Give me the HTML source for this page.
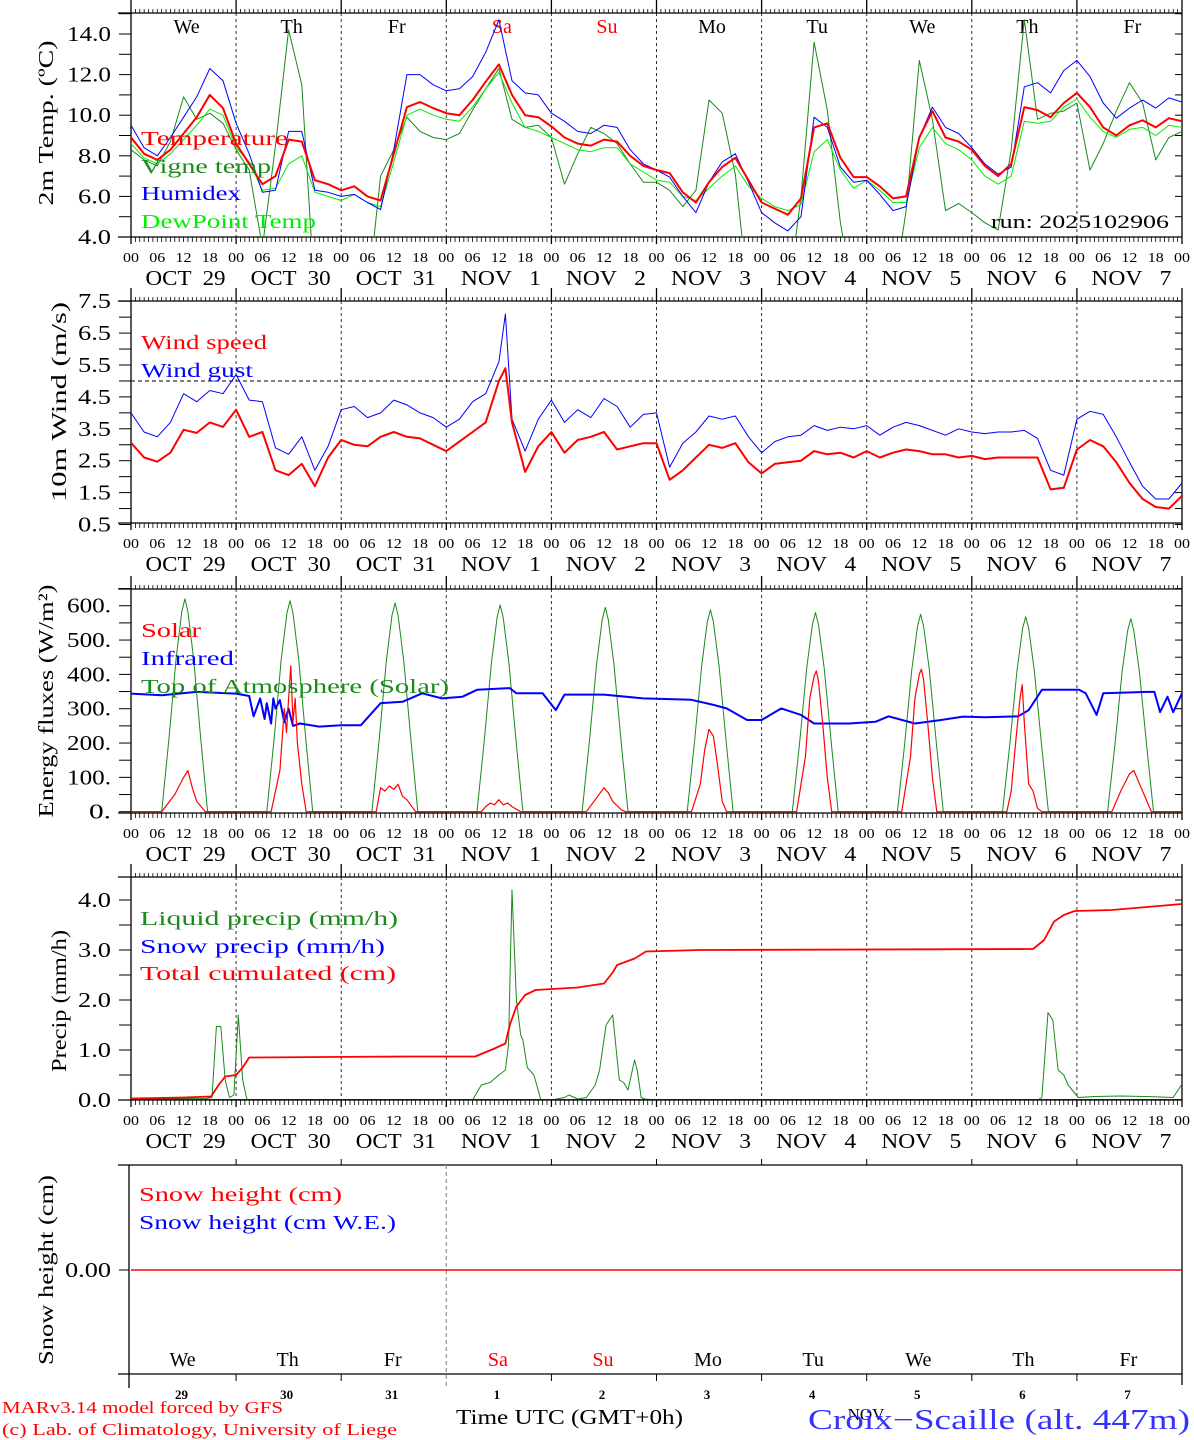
<!DOCTYPE html>
<html><head><meta charset="utf-8"><style>
html,body{margin:0;padding:0;background:#fff;}
svg{display:block;font-family:"Liberation Serif",serif;}
text{white-space:pre;}
</style></head><body>
<svg id="chart" width="1194" height="1440" viewBox="0 0 1194 1440" xmlns="http://www.w3.org/2000/svg" xml:space="preserve"></svg>
<script>
// ---------- DATA ----------
const dayNames = ["We","Th","Fr","Sa","Su","Mo","Tu","We","Th","Fr"];
const dayColors = ["#000","#000","#000","#f00","#f00","#000","#000","#000","#000","#000"];
const dateLabels = ["OCT  29","OCT  30","OCT  31","NOV   1","NOV   2","NOV   3","NOV   4","NOV   5","NOV   6","NOV   7"];
const dateNums = ["29","30","31","1","2","3","4","5","6","7"];
const hourLabels = ["00","06","12","18"];
// 3-hourly series, h = 0..240
const tempVals = [8.9,8.1,7.8,8.3,9.1,9.9,11.0,10.35, 8.6,7.6,6.6,7.0,8.8,8.7,6.8,6.6, 6.3,6.5,6.0,5.8,8.1,10.4,10.65,10.35, 10.1,10.0,10.75,11.65,12.5,11.0,10.0,9.9, 9.45,8.9,8.6,8.5,8.8,8.7,8.0,7.5, 7.3,7.15,6.2,5.7,6.7,7.45,7.9,6.8, 5.7,5.4,5.1,5.9,9.4,9.6,7.9,6.95, 6.95,6.5,5.9,6.0,8.9,10.2,8.9,8.7, 8.3,7.5,7.0,7.6,10.4,10.25,9.9,10.6, 11.1,10.4,9.4,9.0,9.5,9.75,9.4,9.85,9.7];
const humidexVals = [9.5,8.4,8.0,8.9,9.9,10.9,12.3,11.7, 9.6,8.1,6.2,6.3,9.2,9.2,6.3,6.2, 6.0,6.1,5.7,5.35,8.3,12.0,12.0,11.5, 11.2,11.3,11.9,13.1,14.7,11.7,11.1,11.0, 10.1,9.7,9.2,9.1,9.5,9.4,8.3,7.6, 7.3,6.95,6.0,5.2,6.7,7.7,8.1,6.7, 5.2,4.7,4.3,5.0,9.9,9.4,7.45,6.7, 6.8,6.1,5.3,5.5,8.9,10.4,9.4,9.1, 8.4,7.6,7.1,7.45,11.4,11.6,11.1,12.2, 12.7,11.9,10.6,9.85,10.35,10.75,10.35,10.85,10.65];
const dewVals = [8.6,7.9,7.6,8.1,8.8,9.5,10.3,10.0, 8.4,7.7,6.3,6.4,7.6,8.0,6.2,6.0, 5.8,6.1,5.7,5.5,7.7,10.0,10.3,10.0, 9.8,9.7,10.4,11.3,12.1,10.6,9.4,9.2, 8.9,8.6,8.3,8.2,8.4,8.4,7.6,7.2, 6.8,6.7,6.0,5.8,6.4,7.0,7.5,6.5, 5.9,5.5,5.3,5.6,8.2,8.8,7.3,6.4, 6.8,6.3,5.7,5.7,8.4,9.4,8.6,8.3, 7.8,7.0,6.6,7.0,9.7,9.6,9.7,10.4, 10.8,9.9,9.2,8.9,9.3,9.4,9.0,9.5,9.4];
const vigneVals = [8.3,7.8,7.5,8.7,10.9,9.8,10.1,9.6, 8.3,7.3,3.5,8.5,14.2,11.5,1,1, 1,1,1,7.0,8.3,9.9,9.2,8.9, 8.8,9.1,10.25,11.3,12.3,9.8,9.4,9.5, 8.9,6.6,8.1,9.4,9.1,8.6,7.6,6.7, 6.7,6.3,5.5,6.3,10.75,10.1,7.1,1, 1,1,1,6.0,13.6,10.25,4.7,1, 1,1,1,5.3,12.7,9.8,5.3,5.65, 5.2,4.7,4.35,8.3,14.7,9.8,10.1,10.2, 10.6,7.3,8.6,10.2,11.6,10.6,7.8,8.9,9.2];
const windVals = [3.06,2.6,2.47,2.75,3.47,3.37,3.7,3.56, 4.1,3.25,3.4,2.2,2.05,2.4,1.7,2.6, 3.15,3.0,2.95,3.25,3.4,3.25,3.2,3.0, 2.8,3.1,3.4,3.7,5.0,3.7,2.15,2.95, 3.4,2.75,3.15,3.25,3.4,2.85,2.95,3.05, 3.05,1.9,2.2,2.6,3.0,2.9,3.05,2.45, 2.1,2.4,2.45,2.5,2.8,2.7,2.75,2.6, 2.8,2.6,2.75,2.85,2.8,2.7,2.7,2.6, 2.65,2.55,2.6,2.6,2.6,2.6,1.6,1.65, 2.85,3.15,2.95,2.45,1.8,1.3,1.05,1.0,1.4];
const gustVals = [4.0,3.4,3.25,3.7,4.6,4.35,4.7,4.6, 5.2,4.4,4.35,2.9,2.7,3.25,2.2,2.95, 4.1,4.2,3.85,4.0,4.4,4.25,4.0,3.85, 3.55,3.8,4.35,4.6,5.6,3.8,2.8,3.8, 4.4,3.7,4.1,3.85,4.45,4.2,3.55,3.95, 4.0,2.3,3.05,3.4,3.9,3.8,3.9,3.25, 2.75,3.1,3.25,3.3,3.6,3.45,3.55,3.5, 3.6,3.3,3.55,3.7,3.6,3.45,3.3,3.5, 3.4,3.35,3.4,3.4,3.45,3.2,2.2,2.05, 3.8,4.05,3.95,3.25,2.45,1.7,1.3,1.3,1.8];
const windPeakHours = [85.5];
const windPeakVals = [5.4];
const gustPeakVals = [7.1];
// Energy fluxes
const irHours = [0,7,15,22,24,27,28,29.5,30.5,31,32,32.5,33,34,35,36,37,38.6,43,48,52.5,57,62,66.5,71,75.7,79,86.5,88,94,97,99,108,117,128,133,136,140.7,144,148.5,153,156,164,170,173,179,185,190,195,202.6,205,208,216.5,218,220.5,222,232,233.7,235,236.7,238,240];
const irVals = [344,339,349,345,344,337,278,330,270,316,257,330,300,325,260,300,250,257,248,252,252,316,320,345,330,335,355,360,345,345,296,341,341,330,326,311,301,267,267,301,282,257,257,262,278,257,267,277,275,278,296,355,355,345,282,345,349,349,290,335,290,345,350];
const solarHours = [0,7,10,12,13,14,15,17, 32,34,35,35.5,36,36.5,37,37.5,38,39,40, 56,57,58,59,60,61,62,63,65, 80,81,82,83,84,85,86,87,89, 104,106,108,109,110,112,113, 128,130,131,132,133,134,135,136, 152,154,155,156,156.5,157,158,159,160, 176,178,179,180,180.5,181,182,183,184, 200,201,202,203,203.5,204,205,206,207,208, 224,226,228,229,230,231,232,233,240];
const solarVals = [0,0,50,100,120,70,30,0, 0,120,300,230,330,425,260,330,200,80,0, 0,70,60,75,65,80,45,35,0, 0,15,25,20,35,20,25,15,0, 0,35,70,55,30,5,0, 0,80,180,240,220,130,30,0, 0,160,330,395,410,380,250,100,0, 0,160,330,400,415,385,250,100,0, 0,60,200,330,370,260,80,60,10,0, 0,60,110,120,90,60,30,0,0];
const toaOffsets = [7,8.7,10.3,11.6,12.3,13.0,14.3,15.9,17.5];
const toaPeaks = [620,615,608,602,595,588,580,575,568,562];
const toaDayVals = [
 [0,217,446,583,620,583,446,217,0],[0,215,443,578,615,578,443,215,0],[0,213,438,572,608,572,438,213,0],
 [0,211,433,566,602,566,433,211,0],[0,208,428,559,595,559,428,208,0],[0,206,423,553,588,553,423,206,0],
 [0,203,418,545,580,545,418,203,0],[0,201,414,540,575,540,414,201,0],[0,199,409,534,568,534,409,199,0],
 [0,197,405,528,562,528,405,197,0]];
// Precip
const cumHours = [0,12,18.3,20,21.5,24,25.5,27,63,78.6,83,85.5,86.5,88,90,92.4,102,108,110,111,115,117.6,130,206,208.5,210.8,213,215.5,224,232,240];
const cumVals = [0.03,0.05,0.07,0.3,0.47,0.5,0.65,0.85,0.87,0.87,1.03,1.13,1.5,1.87,2.1,2.2,2.25,2.33,2.55,2.7,2.83,2.97,3.0,3.02,3.2,3.57,3.7,3.78,3.8,3.86,3.92];
const liqHours = [0,17,18.5,19.5,20.5,21.5,22.5,23.5,24.5,25.5,26.5,78,80,82,84,85.5,86.2,87,88,89,89.5,90.5,92,93.6,96,99,100,102,104,106,107,108.5,110,111.5,112.5,113.5,115,115.6,116.5,117.4,120,207,208,209.4,210.5,211.7,213,214,216.3,220,226,232,238,240];
const liqVals = [0.02,0.03,0.05,1.47,1.47,0.4,0.05,0.1,1.7,0.4,0.0,0.0,0.3,0.35,0.5,0.6,1.1,4.2,2.0,1.3,1.2,0.65,0.5,0.0,0.0,0.05,0.1,0.02,0.05,0.3,0.6,1.5,1.7,0.4,0.35,0.2,0.8,0.6,0.05,0.02,0.0,0.0,0.05,1.75,1.6,0.6,0.5,0.3,0.05,0.07,0.08,0.07,0.05,0.32];
const snowVals = [0,0];
const snowHours = [0,240];

// ---------- HELPERS ----------
const svg = document.getElementById('chart');
const NS = "http://www.w3.org/2000/svg";
const X0 = 131, X1 = 1182;
function xs(h){ return X0 + h*(X1-X0)/240; }
function mk(tag, attrs, name, parent){
  const e = document.createElementNS(NS, tag);
  for (const k in attrs) e.setAttribute(k, attrs[k]);
  
  
  (parent||svg).appendChild(e);
  return e;
}
function txt(x,y,s,size,fill,name,opts){
  opts = opts||{};
  const t = mk('text', {x:x,y:y,'font-size':size,fill:fill,'text-anchor':opts.anchor||'start'}, name, opts.parent);
  if (opts.len){ t.setAttribute('textLength', opts.len); t.setAttribute('lengthAdjust','spacingAndGlyphs'); }
  if (opts.rot) t.setAttribute('transform', 'rotate(-90 '+x+' '+y+')');
  if (opts.bold) t.setAttribute('font-weight','bold');
  t.textContent = s;
  return t;
}
function line(x1,y1,x2,y2,stroke,w,name,dash,parent){
  const l = mk('line',{x1:x1,y1:y1,x2:x2,y2:y2,stroke:stroke,'stroke-width':w},name,parent);
  if (dash) l.setAttribute('stroke-dasharray', dash);
  return l;
}
function poly(hours, vals, ys, color, w, name, clip){
  let pts = [];
  for (let i=0;i<vals.length;i++) pts.push(xs(hours[i]).toFixed(1)+','+ys(vals[i]).toFixed(1));
  const p = mk('polyline',{points:pts.join(' '),fill:'none',stroke:color,'stroke-width':w,'stroke-linejoin':'round'},name);
  if (clip) p.setAttribute('clip-path','url(#'+clip+')');
  return p;
}
const h3 = []; for (let h=0; h<=240; h+=3) h3.push(h);

const defs = mk('defs',{},'defs');
function clipFor(id,top,bot){
  const c = mk('clipPath',{id:id},'clip-'+id,defs);
  mk('rect',{x:X0,y:top,width:X1-X0,height:bot-top},'clip-rect',c);
}

function frame(p){
  const {top,bot,name} = p;
  for (let d=1; d<10; d++){
    line(xs(d*24),top,xs(d*24),bot,'#333',1,name+'-day-divider','3,3');
  }
  line(118,top,X1,top,'#000',1.3,name+'-top-border');
  line(118,bot,X1,bot,'#000',1.3,name+'-bottom-border');
  line(X0,top,X0,bot,'#000',1.3,name+'-left-axis');
  line(X1,top,X1,bot,'#000',1.3,name+'-right-axis');
  for (let h=0; h<=240; h++){
    const x = xs(h);
    const day = h%24===0;
    line(x,top-(day?13:4),x,top,'#000',day?1.3:0.8,name+'-top-tick');
    line(x,bot,x,bot+(day?7:5),'#000',day?1.3:0.8,name+'-bottom-tick');
  }
  for (let d=0; d<=10; d++){
    for (let k=0;k<4;k++){
      if (d===10 && k>0) break;
      txt(xs(d*24+k*6), bot+25, hourLabels[k], 14, '#000', name+'-hour-label', {anchor:'middle', len:16});
    }
    if (d<10) txt(xs(d*24+12)+2, bot+48, dateLabels[d], 21, '#000', name+'-date-label', {anchor:'middle', len:80});
  }
  for (const v of p.ticks){
    const y = p.ys(v);
    line(119,y,X0,y,'#000',1,name+'-y-tick');
    line(X1-7,y,X1,y,'#000',1,name+'-y-tick-right');
  }
  for (let i=0;i<p.labels.length;i++){
    txt(111, p.ys(p.labels[i])+7, p.labelText[i], 21, '#000', name+'-y-label', {anchor:'end', len:p.labelText[i].length*11});
  }
  txt(p.titleX, p.titleY, p.title, 21, '#000', name+'-y-axis-title', {anchor:'middle', rot:true, len:p.titleLen});
}

// ---------- PANEL 1 ----------
const ys1 = v => 237 - (v-4)*20.3;
clipFor('c1',13,237);
frame({top:13,bot:237,name:'temp-panel',ys:ys1,ticks:[4,5,6,7,8,9,10,11,12,13,14,15],labels:[4,6,8,10,12,14],labelText:['4.0','6.0','8.0','10.0','12.0','14.0'],title:'2m Temp. (ºC)',titleX:53,titleY:123,titleLen:165});
for (let d=0; d<10; d++) txt(xs(d*24+12)+3, 33, dayNames[d], 20, dayColors[d], 'day-name-top', {anchor:'middle'});
poly(h3, vigneVals, ys1, '#1a8a1a', 1, 'vigne-temp-line', 'c1');
poly(h3, dewVals, ys1, '#00ee00', 1, 'dewpoint-line', 'c1');
poly(h3, humidexVals, ys1, '#0000ff', 1, 'humidex-line', 'c1');
poly(h3, tempVals, ys1, '#ff0000', 2, 'temperature-line', 'c1');
txt(141,145,'Temperature',20,'#ff0000','legend-temperature',{len:147});
txt(141,173,'Vigne temp',20,'#1a8a1a','legend-vigne-temp',{len:130});
txt(141,200,'Humidex',20,'#0000ff','legend-humidex',{len:100});
txt(141,228,'DewPoint Temp',20,'#00ee00','legend-dewpoint',{len:175});
txt(991,228,'run: 2025102906',19,'#000','run-label',{len:178});

// ---------- PANEL 2 ----------
const ys2 = v => 524.5 - (v-0.5)*31.9;
clipFor('c2',301,523);
frame({top:301,bot:523,name:'wind-panel',ys:ys2,ticks:[0.5,1,1.5,2,2.5,3,3.5,4,4.5,5,5.5,6,6.5,7,7.5],labels:[0.5,1.5,2.5,3.5,4.5,5.5,6.5,7.5],labelText:['0.5','1.5','2.5','3.5','4.5','5.5','6.5','7.5'],title:'10m Wind (m/s)',titleX:66,titleY:402,titleLen:200});
line(X0,ys2(5),X1,ys2(5),'#000',1,'wind-5ms-threshold','4,3');
function mergePeak(vals, peaks){
  const hh = h3.slice(), vv = vals.slice();
  for (let i=0;i<windPeakHours.length;i++){
    const idx = hh.findIndex(h => h>windPeakHours[i]);
    hh.splice(idx,0,windPeakHours[i]); vv.splice(idx,0,peaks[i]);
  }
  return [hh,vv];
}
const g2 = mergePeak(gustVals, gustPeakVals);
poly(g2[0], g2[1], ys2, '#0000ff', 1, 'wind-gust-line', 'c2');
const w2 = mergePeak(windVals, windPeakVals);
poly(w2[0], w2[1], ys2, '#ff0000', 2, 'wind-speed-line', 'c2');
txt(141,349,'Wind speed',20,'#ff0000','legend-wind-speed',{len:126});
txt(141,377,'Wind gust',20,'#0000ff','legend-wind-gust',{len:112});

// ---------- PANEL 3 ----------
const ys3 = v => 811.7 - v*0.3433;
clipFor('c3',589,813);
frame({top:589,bot:813,name:'energy-panel',ys:ys3,ticks:[0,50,100,150,200,250,300,350,400,450,500,550,600,650],labels:[0,100,200,300,400,500,600],labelText:['0.','100.','200.','300.','400.','500.','600.'],title:'Energy fluxes (W/m²)',titleX:53,titleY:701,titleLen:233});
const toaH = [0], toaV = [0];
for (let d=0; d<10; d++){
  for (let k=0;k<toaOffsets.length;k++){ toaH.push(d*24+toaOffsets[k]); toaV.push(toaDayVals[d][k]); }
}
toaH.push(240); toaV.push(0);
poly(toaH, toaV, ys3, '#1a8a1a', 1, 'toa-solar-line', 'c3');
poly(irHours, irVals, ys3, '#0000ff', 2, 'infrared-line', 'c3');
poly(solarHours, solarVals, ys3, '#ff0000', 1.2, 'solar-line', 'c3');
txt(141,637,'Solar',20,'#ff0000','legend-solar',{len:60});
txt(141,665,'Infrared',20,'#0000ff','legend-infrared',{len:93});
txt(141,693,'Top of Atmosphere (Solar)',20,'#1a8a1a','legend-toa',{len:308});

// ---------- PANEL 4 ----------
const ys4 = v => 1100 - v*50;
clipFor('c4',877,1100);
frame({top:877,bot:1100,name:'precip-panel',ys:ys4,ticks:[0,0.5,1,1.5,2,2.5,3,3.5,4],labels:[0,1,2,3,4],labelText:['0.0','1.0','2.0','3.0','4.0'],title:'Precip (mm/h)',titleX:66,titleY:1001,titleLen:142});
poly(liqHours, liqVals, ys4, '#1a8a1a', 1, 'liquid-precip-line', 'c4');
poly(cumHours, cumVals, ys4, '#ff0000', 1.8, 'total-cumulated-line', 'c4');
poly(snowHours, snowVals, ys4, '#0000ff', 2, 'snow-precip-line', 'c4');
txt(140,925,'Liquid precip (mm/h)',20,'#1a8a1a','legend-liquid-precip',{len:258});
txt(140,953,'Snow precip (mm/h)',20,'#0000ff','legend-snow-precip',{len:245});
txt(140,980,'Total cumulated (cm)',20,'#ff0000','legend-total-cumulated',{len:256});

// ---------- PANEL 5 ----------
const top5 = 1165, bot5 = 1374;
line(118,top5,X1,top5,'#000',1.3,'snow-panel-top-border');
line(118,bot5,X1,bot5,'#000',1.3,'snow-panel-bottom-border');
line(129,top5,129,1388,'#000',1.3,'snow-panel-left-axis');
line(X1,top5,X1,1385,'#000',1.3,'snow-panel-right-axis');
line(xs(72),top5,xs(72),1388,'#999',1.3,'snow-panel-nov1-divider','4,3');
for (let d=1; d<10; d++){
  if (d!==3){
    line(xs(d*24),top5-6,xs(d*24),top5,'#000',1,'snow-top-day-tick');
    line(xs(d*24),bot5,xs(d*24),bot5+7,'#000',1,'snow-bottom-day-tick');
  }
}
line(119,1270,129,1270,'#000',1,'snow-y-tick');
txt(111,1277,'0.00',21,'#000','snow-y-label',{anchor:'end', len:46});
txt(53,1270,'Snow height (cm)',21,'#000','snow-y-axis-title',{anchor:'middle',rot:true,len:190});
poly(snowHours, snowVals, v => 1270 - v*50, '#ff0000', 1.5, 'snow-height-line');
txt(139,1201,'Snow height (cm)',20,'#ff0000','legend-snow-height',{len:203});
txt(139,1229,'Snow height (cm W.E.)',20,'#0000ff','legend-snow-height-we',{len:257});
for (let d=0; d<10; d++){
  txt(xs(d*24+12)-1, 1366, dayNames[d], 20, dayColors[d], 'day-name-bottom', {anchor:'middle'});
  txt(xs(d*24+12)-2, 1399, dateNums[d], 13, '#000', 'date-number', {anchor:'middle', bold:true});
}

// ---------- FOOTER ----------
txt(2,1413,'MARv3.14 model forced by GFS',17,'#ff0000','model-credit',{len:281});
txt(2,1435,'(c) Lab. of Climatology, University of Liege',17,'#ff0000','lab-credit',{len:395});
txt(456,1424,'Time UTC (GMT+0h)',21,'#000','x-axis-title',{len:227});
txt(866,1420,'NOV',17,'#000','month-label',{anchor:'middle'});
txt(808,1429,'Croix\u2212Scaille (alt. 447m)',28,'#3333ff','station-title',{len:382});
</script>
</body></html>
